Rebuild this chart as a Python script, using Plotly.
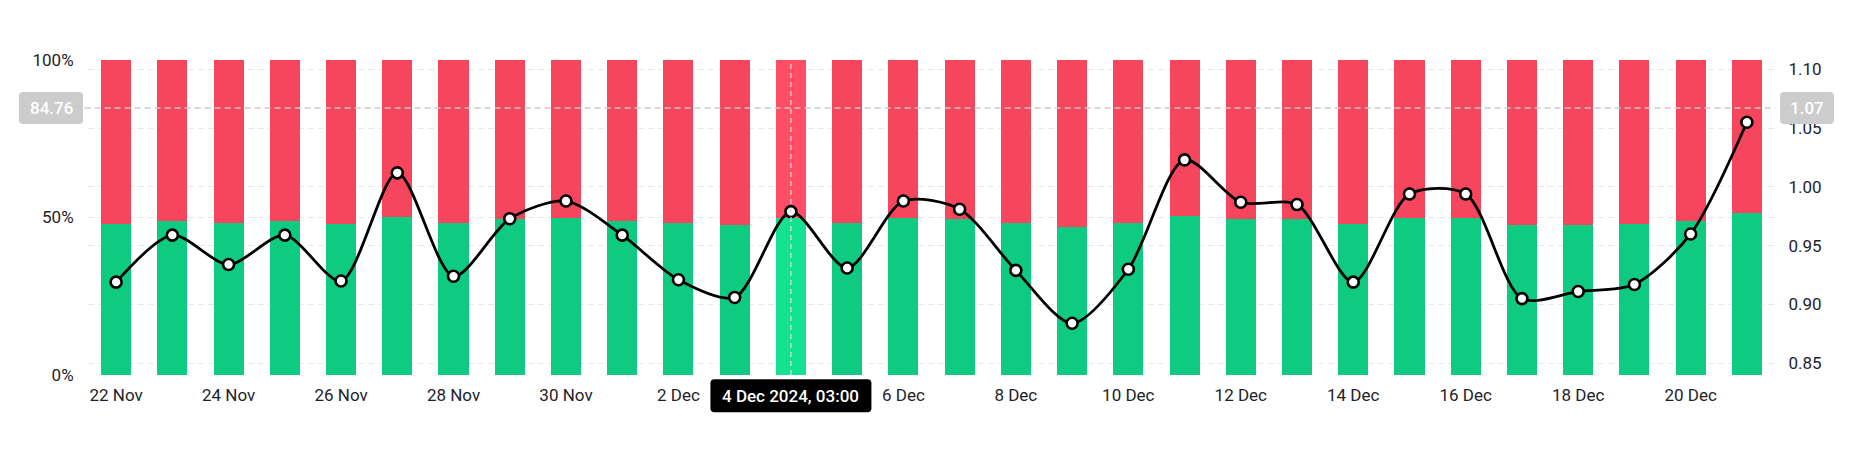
import plotly.graph_objects as go

# ---------------- data ----------------
dates = ["22 Nov", "23 Nov", "24 Nov", "25 Nov", "26 Nov", "27 Nov", "28 Nov", "29 Nov",
         "30 Nov", "1 Dec", "2 Dec", "3 Dec", "4 Dec", "5 Dec", "6 Dec", "7 Dec", "8 Dec",
         "9 Dec", "10 Dec", "11 Dec", "12 Dec", "13 Dec", "14 Dec", "15 Dec", "16 Dec",
         "17 Dec", "18 Dec", "19 Dec", "20 Dec", "21 Dec"]
long_pct = [47.9, 49.0, 48.4, 49.0, 47.9, 50.3, 48.1, 49.4, 49.7, 49.0, 48.1, 47.5,
            49.7, 48.4, 49.7, 49.5, 48.1, 46.9, 48.1, 50.6, 49.6, 49.6, 47.9, 49.8,
            49.8, 47.5, 47.6, 47.8, 49.0, 51.3]
short_pct = [round(100 - v, 2) for v in long_pct]
ratio = [0.919, 0.959, 0.934, 0.959, 0.920, 1.012, 0.924, 0.973, 0.988, 0.959, 0.921, 0.906,
         0.979, 0.931, 0.988, 0.981, 0.929, 0.884, 0.930, 1.023, 0.987, 0.985, 0.919, 0.994,
         0.994, 0.905, 0.911, 0.917, 0.960, 1.055]
tick_labels = ["22 Nov", "24 Nov", "26 Nov", "28 Nov", "30 Nov", "2 Dec", "4 Dec", "6 Dec",
               "8 Dec", "10 Dec", "12 Dec", "14 Dec", "16 Dec", "18 Dec", "20 Dec"]
left_ticks = [0, 50, 100]
left_tick_text = ["0%", "50%", "100%"]
right_ticks = [0.85, 0.90, 0.95, 1.00, 1.05, 1.10]
right_tick_text = ["0.85", "0.90", "0.95", "1.00", "1.05", "1.10"]

hover_index = 12
hover_label = "4 Dec 2024, 03:00"
hover_left = "84.76"
hover_right = "1.07"
hover_left_val = 84.76

# ---------------- style ----------------
GREEN = "#0ECB81"
GREEN_HI = "#14E290"
RED = "#F6465D"
RED_HI = "#FF4E66"
TXT = "#1E2329"
GRID = "#E6E8EA"
FONT = "Roboto"
FS = 17

W, H = 1852, 450
ML, MR, MT, MB = 88, 77, 60, 75
PW, PH = W - ML - MR, H - MT - MB
Y2_RANGE = [0.840, 1.108]

green_colors = [GREEN_HI if i == hover_index else GREEN for i in range(len(dates))]
red_colors = [RED_HI if i == hover_index else RED for i in range(len(dates))]

fig = go.Figure()
fig.add_trace(go.Bar(x=dates, y=long_pct, marker=dict(color=green_colors, line=dict(width=0)),
                     width=0.535, name="Long", hoverinfo="skip"))
fig.add_trace(go.Bar(x=dates, y=short_pct, marker=dict(color=red_colors, line=dict(width=0)),
                     width=0.535, name="Short", hoverinfo="skip"))
fig.add_trace(go.Scatter(x=dates, y=ratio, yaxis="y2", mode="lines+markers",
                         line=dict(color="#000000", width=2.8, shape="spline", smoothing=0.8),
                         marker=dict(size=11, color="#FFFFFF", line=dict(color="#000000", width=2.6)),
                         name="Ratio", hoverinfo="skip"))


def px_to_paper(px, py):
    return (px - ML) / PW, (H - MB - py) / PH


def rrect(cx, cy, w, h, r):
    # rounded rect (pixel geometry) -> path in paper coords
    x0, x1 = cx - w / 2, cx + w / 2
    y0, y1 = cy - h / 2, cy + h / 2

    def P(x, y):
        a, b = px_to_paper(x, y)
        return f"{a:.6f},{b:.6f}"
    return (f"M {P(x0 + r, y0)} L {P(x1 - r, y0)} Q {P(x1, y0)} {P(x1, y0 + r)} "
            f"L {P(x1, y1 - r)} Q {P(x1, y1)} {P(x1 - r, y1)} "
            f"L {P(x0 + r, y1)} Q {P(x0, y1)} {P(x0, y1 - r)} "
            f"L {P(x0, y0 + r)} Q {P(x0, y0)} {P(x0 + r, y0)} Z")


n = len(dates)
hover_px = ML + (hover_index + 0.5) / n * PW
hover_py = H - MB - hover_left_val / 100 * PH

shapes = [
    dict(type="line", xref="x", yref="paper", x0=hover_index, x1=hover_index, y0=0, y1=1,
         line=dict(color="rgba(225,225,225,0.95)", width=1.2, dash="5px,4px"), layer="above"),
    dict(type="line", xref="paper", yref="y", x0=-0.002, x1=1, y0=hover_left_val, y1=hover_left_val,
         line=dict(color="rgba(200,200,200,0.95)", width=1.4, dash="6px,4px"), layer="above"),
    dict(type="path", xref="paper", yref="paper", path=rrect(51, hover_py, 64, 32, 4),
         fillcolor="#CCCCCC", line=dict(width=0), layer="above"),
    dict(type="path", xref="paper", yref="paper", path=rrect(1807, hover_py, 54, 32, 4),
         fillcolor="#CCCCCC", line=dict(width=0), layer="above"),
    dict(type="path", xref="paper", yref="paper", path=rrect(hover_px, 395.8, 161, 33, 4),
         fillcolor="#000000", line=dict(width=0), layer="above"),
]

annotations = [
    dict(xref="paper", yref="paper", x=px_to_paper(51, 0)[0], y=px_to_paper(0, hover_py)[1],
         text=hover_left, showarrow=False, xanchor="center", yanchor="middle",
         font=dict(family=FONT, size=FS, color="#FFFFFF", weight=500)),
    dict(xref="paper", yref="paper", x=px_to_paper(1807, 0)[0], y=px_to_paper(0, hover_py)[1],
         text=hover_right, showarrow=False, xanchor="center", yanchor="middle",
         font=dict(family=FONT, size=FS, color="#FFFFFF", weight=500)),
    dict(xref="paper", yref="paper", x=px_to_paper(hover_px, 0)[0], y=px_to_paper(0, 395.8)[1],
         text=hover_label, showarrow=False, xanchor="center", yanchor="middle",
         font=dict(family=FONT, size=FS, color="#FFFFFF", weight=500)),
]

# the hovered date's tick label is hidden behind the hover date box
shown_ticks = [t for t in tick_labels if t != dates[hover_index]]

fig.update_layout(
    width=W, height=H,
    margin=dict(l=ML, r=MR, t=MT, b=MB, pad=0),
    paper_bgcolor="#FFFFFF", plot_bgcolor="#FFFFFF",
    barmode="stack", bargap=0, showlegend=False,
    font=dict(family=FONT, size=FS, color=TXT),
    xaxis=dict(type="category", range=[-0.5, n - 0.5], tickmode="array",
               tickvals=shown_ticks, ticktext=shown_ticks, showgrid=False, zeroline=False,
               showline=False, ticks="outside", ticklen=5, tickcolor="rgba(0,0,0,0)",
               tickfont=dict(family=FONT, size=FS, color=TXT)),
    yaxis=dict(range=[0, 100], tickvals=left_ticks, ticktext=left_tick_text,
               showgrid=True, gridcolor=GRID, griddash="6px,4px", gridwidth=1,
               zeroline=False, showline=False, ticks="outside", ticklen=10,
               tickcolor="rgba(0,0,0,0)", tickfont=dict(family=FONT, size=FS, color=TXT)),
    yaxis2=dict(range=Y2_RANGE, overlaying="y", side="right", tickvals=right_ticks,
                ticktext=right_tick_text, showgrid=True, gridcolor=GRID, griddash="6px,4px",
                gridwidth=1, zeroline=False, showline=False, ticks="outside", ticklen=9,
                tickcolor="rgba(0,0,0,0)", tickfont=dict(family=FONT, size=FS, color=TXT)),
    shapes=shapes,
    annotations=annotations,
)

fig.write_html("out.html")
